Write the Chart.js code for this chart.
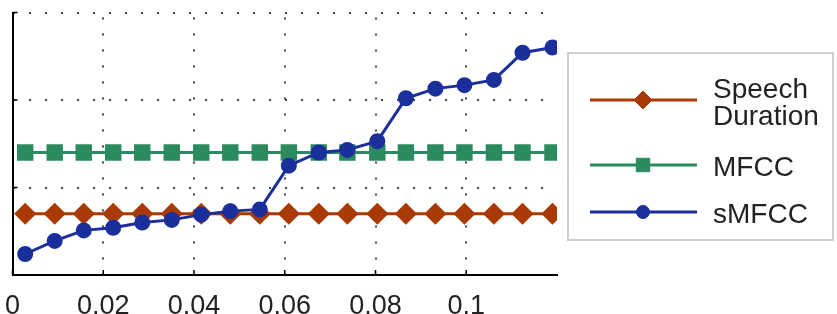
<!DOCTYPE html>
<html>
<head>
<meta charset="utf-8">
<script src="https://cdn.jsdelivr.net/npm/chart.js@4.4.1/dist/chart.umd.min.js"></script>
<style>
  html, body { margin: 0; padding: 0; background: #fff; overflow: hidden; }
</style>
</head>
<body>
<canvas id="chart" width="837" height="314"></canvas>
<script>
// x positions of the 19 measurement points
const xValues = [0.0028, 0.0093, 0.0157, 0.0222, 0.0286, 0.0351, 0.0416, 0.0480, 0.0545, 0.0609,
                 0.0675, 0.0738, 0.0804, 0.0867, 0.0932, 0.0996, 0.1061, 0.1124, 0.1190];

const speechDuration = [0.70, 0.70, 0.70, 0.70, 0.70, 0.70, 0.70, 0.70, 0.70, 0.70,
                        0.70, 0.70, 0.70, 0.70, 0.70, 0.70, 0.70, 0.70, 0.70];
const mfcc = [1.40, 1.40, 1.40, 1.40, 1.40, 1.40, 1.40, 1.40, 1.40, 1.40,
              1.40, 1.40, 1.40, 1.40, 1.40, 1.40, 1.40, 1.40, 1.40];
const smfcc = [0.24, 0.39, 0.51, 0.54, 0.60, 0.63, 0.69, 0.73, 0.75, 1.25,
               1.40, 1.43, 1.53, 2.02, 2.13, 2.17, 2.23, 2.54, 2.60];

const xTicks = [0, 0.02, 0.04, 0.06, 0.08, 0.1];
const yTicks = [0, 1, 2, 3];

const legendLabels = [["Speech", "Duration"], ["MFCC"], ["sMFCC"]];

const FONT = "'Liberation Sans', Arial, sans-serif";

const toPoints = (ys) => ys.map((y, i) => ({x: xValues[i], y: y}));

// tick marks drawn inward, like the original plot
const innerTicks = {
  id: "innerTicks",
  afterDraw(chart) {
    const {ctx, chartArea} = chart;
    const xs = chart.scales.x, ys = chart.scales.y;
    ctx.save();
    ctx.strokeStyle = "#000";
    ctx.lineWidth = 1.5;
    ctx.beginPath();
    xTicks.forEach((v) => {
      const px = xs.getPixelForValue(v);
      ctx.moveTo(px, chartArea.bottom);
      ctx.lineTo(px, chartArea.bottom - 5);
    });
    yTicks.forEach((v) => {
      const py = ys.getPixelForValue(v);
      ctx.moveTo(chartArea.left, py);
      ctx.lineTo(chartArea.left + 5, py);
    });
    ctx.stroke();
    ctx.restore();
  },
};

// boxed legend at the right, line with marker in the middle
const boxLegend = {
  id: "boxLegend",
  afterDraw(chart) {
    const {ctx, chartArea} = chart;
    const left = chartArea.right + 11, top = 53, right = 833, bottom = 240;
    ctx.save();
    ctx.fillStyle = "#fff";
    ctx.fillRect(left, top, right - left, bottom - top);
    ctx.strokeStyle = "#cfcfcf";
    ctx.lineWidth = 2;
    ctx.strokeRect(left, top, right - left, bottom - top);

    const rows = [100, 165, 212];
    chart.data.datasets.forEach((ds, i) => {
      const y = rows[i];
      ctx.strokeStyle = ds.borderColor;
      ctx.lineWidth = 3;
      ctx.beginPath();
      ctx.moveTo(left + 22, y);
      ctx.lineTo(left + 129, y);
      ctx.stroke();
      ctx.fillStyle = ds.pointBackgroundColor;
      ctx.strokeStyle = ds.pointBackgroundColor;
      ctx.lineWidth = 1;
      Chart.helpers.drawPoint(ctx, {
        pointStyle: ds.pointStyle,
        radius: ds.pointRadius,
        borderWidth: 1,
        rotation: 0,
      }, left + 75, y);

      ctx.fillStyle = "#222";
      ctx.font = "28px " + FONT;
      ctx.textBaseline = "alphabetic";
      const lines = legendLabels[i];
      if (lines.length === 2) {
        ctx.fillText(lines[0], left + 145, y - 2);
        ctx.fillText(lines[1], left + 145, y + 25);
      } else {
        ctx.fillText(lines[0], left + 145, y + 11);
      }
    });
    ctx.restore();
  },
};

const ctx = document.getElementById("chart").getContext("2d");
new Chart(ctx, {
  type: "line",
  data: {
    datasets: [
      {
        label: "Speech Duration",
        data: toPoints(speechDuration),
        borderColor: "#a93a06",
        pointBackgroundColor: "#a93a06",
        pointBorderColor: "#a93a06",
        pointStyle: "rectRot",
        pointRadius: 9,
        borderWidth: 3,
        order: 3,
      },
      {
        label: "MFCC",
        data: toPoints(mfcc),
        borderColor: "#2b8a5e",
        pointBackgroundColor: "#2b8a5e",
        pointBorderColor: "#2b8a5e",
        pointStyle: "rect",
        pointRadius: 9.5,
        borderWidth: 3,
        order: 2,
      },
      {
        label: "sMFCC",
        data: toPoints(smfcc),
        borderColor: "#1b2f9c",
        pointBackgroundColor: "#1b2f9c",
        pointBorderColor: "#1b2f9c",
        pointStyle: "circle",
        pointRadius: 6.5,
        borderWidth: 3,
        order: 1,
      },
    ],
  },
  options: {
    responsive: false,
    animation: false,
    layout: {
      padding: {top: 10, right: 280, left: 0, bottom: 0},
    },
    plugins: {
      legend: {display: false},
      tooltip: {enabled: false},
    },
    scales: {
      x: {
        type: "linear",
        min: 0,
        max: 0.12,
        afterBuildTicks: (axis) => {
          axis.ticks = xTicks.map((v) => ({value: v}));
        },
        // labels run past the bottom edge, as in the cropped original
        afterFit: (axis) => {
          axis.height = 39;
          axis.paddingLeft = 1;
        },
        ticks: {
          color: "#222",
          font: {family: FONT, size: 27},
          padding: 15,
          maxRotation: 0,
          callback: (v) => String(v),
        },
        grid: {
          color: "#444",
          lineWidth: 2,
          drawTicks: false,
        },
        border: {
          display: true,
          color: "#000",
          width: 2,
          dash: [2, 14],
          dashOffset: -5,
        },
      },
      y: {
        type: "linear",
        min: 0,
        max: 3,
        afterBuildTicks: (axis) => {
          axis.ticks = yTicks.map((v) => ({value: v}));
        },
        afterFit: (axis) => {
          axis.width = 0;
        },
        ticks: {display: false},
        grid: {
          color: "#444",
          lineWidth: 2,
          drawTicks: false,
        },
        border: {
          display: true,
          color: "#000",
          width: 2,
          dash: [2, 14],
          dashOffset: -15,
        },
      },
    },
  },
  plugins: [innerTicks, boxLegend],
});
</script>
</body>
</html>
